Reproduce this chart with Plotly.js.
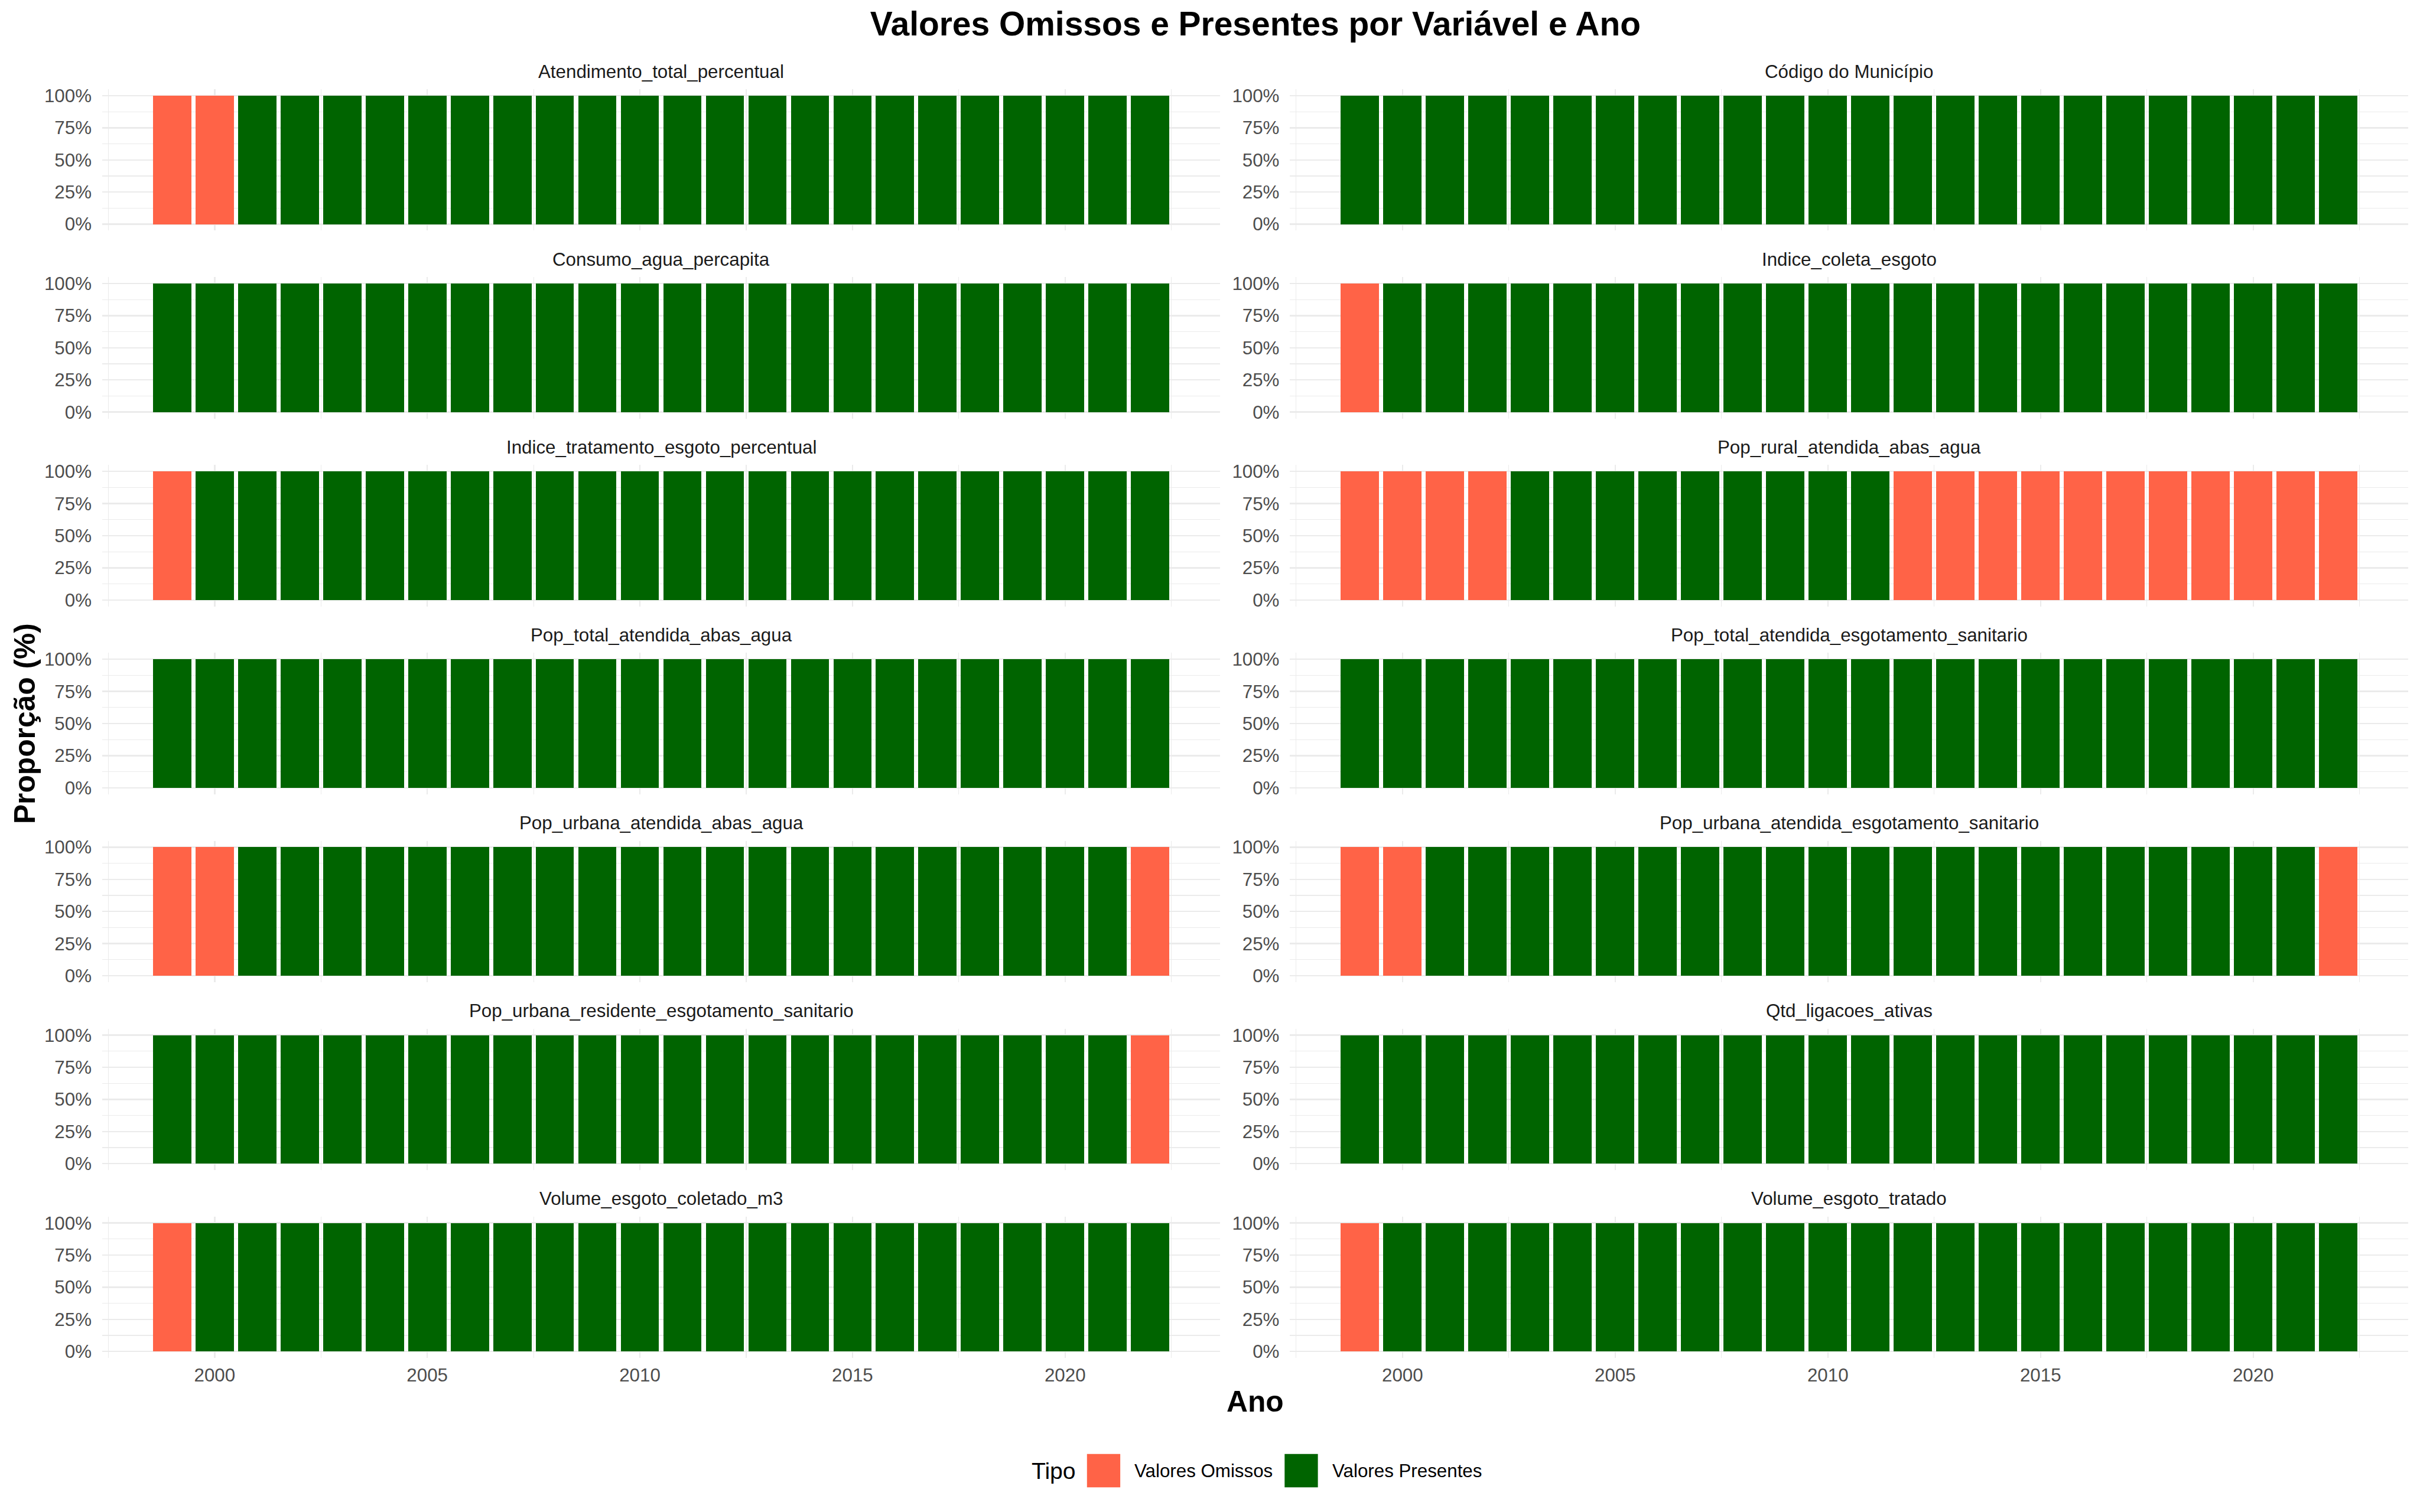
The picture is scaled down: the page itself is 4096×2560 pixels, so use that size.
<!DOCTYPE html>
<html><head><meta charset="utf-8">
<script src="https://cdn.plot.ly/plotly-3.0.1.min.js"></script>
<style>html,body{margin:0;padding:0;background:#fff;overflow:hidden;} #chart{width:4096px;height:2560px;}</style>
</head><body><div id="chart"></div>
<script>
// ---------------- DATA ----------------
const years = [1999,2000,2001,2002,2003,2004,2005,2006,2007,2008,2009,2010,2011,2012,2013,2014,2015,2016,2017,2018,2019,2020,2021,2022];
const variables = [
  "Atendimento_total_percentual", "Código do Município",
  "Consumo_agua_percapita", "Indice_coleta_esgoto",
  "Indice_tratamento_esgoto_percentual", "Pop_rural_atendida_abas_agua",
  "Pop_total_atendida_abas_agua", "Pop_total_atendida_esgotamento_sanitario",
  "Pop_urbana_atendida_abas_agua", "Pop_urbana_atendida_esgotamento_sanitario",
  "Pop_urbana_residente_esgotamento_sanitario", "Qtd_ligacoes_ativas",
  "Volume_esgoto_coletado_m3", "Volume_esgoto_tratado"
];
const tipos = ["Valores Omissos", "Valores Presentes"];
const tipoColors = ["#FF6347", "#006400"];
const legendTitle = "Tipo";

// share of missing values per year (1 = 100%)
const omissos_atendimento_total = [1,1,0,0,0,0,0,0,0,0,0,0,0,0,0,0,0,0,0,0,0,0,0,0];
const omissos_codigo_municipio  = [0,0,0,0,0,0,0,0,0,0,0,0,0,0,0,0,0,0,0,0,0,0,0,0];
const omissos_consumo_agua      = [0,0,0,0,0,0,0,0,0,0,0,0,0,0,0,0,0,0,0,0,0,0,0,0];
const omissos_indice_coleta     = [1,0,0,0,0,0,0,0,0,0,0,0,0,0,0,0,0,0,0,0,0,0,0,0];
const omissos_indice_tratamento = [1,0,0,0,0,0,0,0,0,0,0,0,0,0,0,0,0,0,0,0,0,0,0,0];
const omissos_pop_rural_agua    = [1,1,1,1,0,0,0,0,0,0,0,0,0,1,1,1,1,1,1,1,1,1,1,1];
const omissos_pop_total_agua    = [0,0,0,0,0,0,0,0,0,0,0,0,0,0,0,0,0,0,0,0,0,0,0,0];
const omissos_pop_total_esgoto  = [0,0,0,0,0,0,0,0,0,0,0,0,0,0,0,0,0,0,0,0,0,0,0,0];
const omissos_pop_urbana_agua   = [1,1,0,0,0,0,0,0,0,0,0,0,0,0,0,0,0,0,0,0,0,0,0,1];
const omissos_pop_urbana_esgoto = [1,1,0,0,0,0,0,0,0,0,0,0,0,0,0,0,0,0,0,0,0,0,0,1];
const omissos_pop_urb_residente = [0,0,0,0,0,0,0,0,0,0,0,0,0,0,0,0,0,0,0,0,0,0,0,1];
const omissos_qtd_ligacoes      = [0,0,0,0,0,0,0,0,0,0,0,0,0,0,0,0,0,0,0,0,0,0,0,0];
const omissos_volume_coletado   = [1,0,0,0,0,0,0,0,0,0,0,0,0,0,0,0,0,0,0,0,0,0,0,0];
const omissos_volume_tratado    = [1,0,0,0,0,0,0,0,0,0,0,0,0,0,0,0,0,0,0,0,0,0,0,0];

// share of present values per year (1 = 100%)
const presentes_atendimento_total = [0,0,1,1,1,1,1,1,1,1,1,1,1,1,1,1,1,1,1,1,1,1,1,1];
const presentes_codigo_municipio  = [1,1,1,1,1,1,1,1,1,1,1,1,1,1,1,1,1,1,1,1,1,1,1,1];
const presentes_consumo_agua      = [1,1,1,1,1,1,1,1,1,1,1,1,1,1,1,1,1,1,1,1,1,1,1,1];
const presentes_indice_coleta     = [0,1,1,1,1,1,1,1,1,1,1,1,1,1,1,1,1,1,1,1,1,1,1,1];
const presentes_indice_tratamento = [0,1,1,1,1,1,1,1,1,1,1,1,1,1,1,1,1,1,1,1,1,1,1,1];
const presentes_pop_rural_agua    = [0,0,0,0,1,1,1,1,1,1,1,1,1,0,0,0,0,0,0,0,0,0,0,0];
const presentes_pop_total_agua    = [1,1,1,1,1,1,1,1,1,1,1,1,1,1,1,1,1,1,1,1,1,1,1,1];
const presentes_pop_total_esgoto  = [1,1,1,1,1,1,1,1,1,1,1,1,1,1,1,1,1,1,1,1,1,1,1,1];
const presentes_pop_urbana_agua   = [0,0,1,1,1,1,1,1,1,1,1,1,1,1,1,1,1,1,1,1,1,1,1,0];
const presentes_pop_urbana_esgoto = [0,0,1,1,1,1,1,1,1,1,1,1,1,1,1,1,1,1,1,1,1,1,1,0];
const presentes_pop_urb_residente = [1,1,1,1,1,1,1,1,1,1,1,1,1,1,1,1,1,1,1,1,1,1,1,0];
const presentes_qtd_ligacoes      = [1,1,1,1,1,1,1,1,1,1,1,1,1,1,1,1,1,1,1,1,1,1,1,1];
const presentes_volume_coletado   = [0,1,1,1,1,1,1,1,1,1,1,1,1,1,1,1,1,1,1,1,1,1,1,1];
const presentes_volume_tratado    = [0,1,1,1,1,1,1,1,1,1,1,1,1,1,1,1,1,1,1,1,1,1,1,1];

const omissosByVar = [omissos_atendimento_total, omissos_codigo_municipio, omissos_consumo_agua,
  omissos_indice_coleta, omissos_indice_tratamento, omissos_pop_rural_agua, omissos_pop_total_agua,
  omissos_pop_total_esgoto, omissos_pop_urbana_agua, omissos_pop_urbana_esgoto, omissos_pop_urb_residente,
  omissos_qtd_ligacoes, omissos_volume_coletado, omissos_volume_tratado];
const presentesByVar = [presentes_atendimento_total, presentes_codigo_municipio, presentes_consumo_agua,
  presentes_indice_coleta, presentes_indice_tratamento, presentes_pop_rural_agua, presentes_pop_total_agua,
  presentes_pop_total_esgoto, presentes_pop_urbana_agua, presentes_pop_urbana_esgoto, presentes_pop_urb_residente,
  presentes_qtd_ligacoes, presentes_volume_coletado, presentes_volume_tratado];

// ---------------- LAYOUT ----------------
const W = 4096, H = 2560, S = W / 4800;
const FONT = "Liberation Sans, Arial, Helvetica, sans-serif";
const RW = 4800, RH = 3000; // reference geometry for fractions
const xDom = [[202.7/RW, 2420/RW], [2558.7/RW, 4776.7/RW]];
function yDom(k){ const top = 177 + 372.8*k, bot = top + 280.5; return [1 - bot/RH, 1 - top/RH]; }

const traces = [];
const layout = {
  width: W, height: H,
  margin: {l:0, r:0, t:0, b:0, pad:0},
  paper_bgcolor: "#fff", plot_bgcolor: "#fff",
  barmode: "stack",
  showlegend: false,
  font: {family: FONT, color: "#1A1A1A"},
  title: {text: "Valores Omissos e Presentes por Variável e Ano",
    font: {family: FONT, size: 66.7*S, color: "#000", weight: "bold"},
    x: 2490/RW, xanchor: "center", xref: "paper", y: 1 - 47/RH, yanchor: "middle", yref: "container"},
  annotations: [], shapes: []
};
const gridColor = "#EBEBEB";
const tickFont = {family: FONT, size: 36.7*S, color: "#4D4D4D"};

variables.forEach((v, i) => {
  const row = Math.floor(i/2), col = i % 2;
  const n = i + 1;
  const xa = "xaxis" + (n === 1 ? "" : n), ya = "yaxis" + (n === 1 ? "" : n);
  const xr = "x" + (n === 1 ? "" : n), yr = "y" + (n === 1 ? "" : n);
  const yd = yDom(row);
  layout[xa] = {domain: xDom[col], anchor: yr, range: [1997.355, 2023.645],
    tickmode: "linear", tick0: 2000, dtick: 5, showgrid: true, gridcolor: gridColor, gridwidth: 2.4,
    minor: {tickmode: "linear", tick0: 2000, dtick: 2.5, showgrid: true, gridcolor: gridColor, gridwidth: 1.2, ticks: ""},
    zeroline: false, showline: false, ticks: "", showticklabels: row === 6, tickfont: tickFont,
    ticklabelstandoff: 8, fixedrange: true};
  layout[ya] = {domain: yd, anchor: xr, range: [-0.05, 1.05],
    tickmode: "linear", tick0: 0, dtick: 0.25, tickformat: ".0%", showgrid: true, gridcolor: gridColor, gridwidth: 2.4,
    minor: {tickmode: "linear", tick0: 0, dtick: 0.125, showgrid: true, gridcolor: gridColor, gridwidth: 1.2, ticks: ""},
    zeroline: false, showline: false, ticks: "", tickfont: tickFont, ticklabelstandoff: 17, fixedrange: true};
  [omissosByVar[i], presentesByVar[i]].forEach((vals, t) => {
    traces.push({type: "bar", x: years, y: vals, xaxis: xr, yaxis: yr, name: tipos[t],
      width: 0.9, marker: {color: tipoColors[t], line: {width: 0}}, showlegend: false,
      hovertemplate: v + "<br>%{x}: %{y:.0%}<extra>" + tipos[t] + "</extra>"});
  });
  layout.annotations.push({text: v, xref: "paper", yref: "paper",
    x: (xDom[col][0] + xDom[col][1]) / 2, y: yd[1], xanchor: "center", yanchor: "middle",
    yshift: 35*S, showarrow: false, font: {family: FONT, size: 36.7*S, color: "#1A1A1A"}});
});

// axis titles
layout.annotations.push({text: "Ano", xref: "paper", yref: "paper", x: 2490/RW, y: 1 - 2781/RH,
  xanchor: "center", yanchor: "middle", showarrow: false,
  font: {family: FONT, size: 58.3*S, color: "#000", weight: "bold"}});
layout.annotations.push({text: "Proporção (%)", xref: "paper", yref: "paper", x: 50/RW, y: 1 - 1436/RH,
  xanchor: "center", yanchor: "middle", textangle: -90, showarrow: false,
  font: {family: FONT, size: 58.3*S, color: "#000", weight: "bold"}});

// legend (drawn in paper space)
const legY = 1 - 2918/RH;
layout.annotations.push({text: legendTitle, xref: "paper", yref: "paper", x: 2044/RW, y: legY,
  xanchor: "left", yanchor: "middle", showarrow: false, font: {family: FONT, size: 45.8*S, color: "#000"}});
const keyX = [2156, 2548], labX = [2248, 2640];
tipos.forEach((t, j) => {
  layout.shapes.push({type: "rect", xref: "paper", yref: "paper",
    x0: keyX[j]/RW, x1: (keyX[j]+66)/RW, y0: 1 - 2951/RH, y1: 1 - 2885/RH,
    fillcolor: tipoColors[j], line: {width: 0}});
  layout.annotations.push({text: t, xref: "paper", yref: "paper", x: labX[j]/RW, y: legY,
    xanchor: "left", yanchor: "middle", showarrow: false, font: {family: FONT, size: 36.7*S, color: "#000"}});
});

Plotly.newPlot("chart", traces, layout, {staticPlot: true, displayModeBar: false});
</script>
</body></html>
